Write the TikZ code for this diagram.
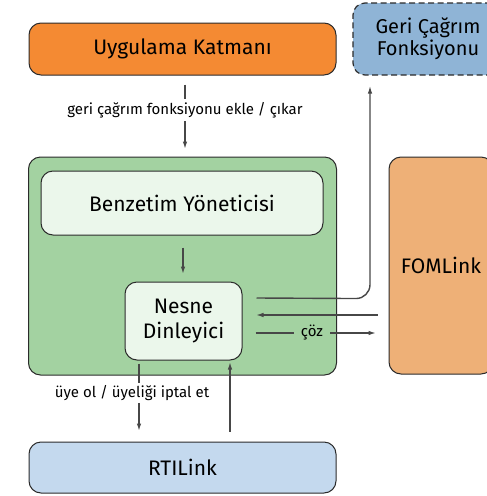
\documentclass[tikz,border=0pt]{standalone}
\usepackage{fontspec}
\setmainfont{Fira Sans}
\usetikzlibrary{arrows.meta,calc}

\definecolor{appfill}{HTML}{F48A33}
\definecolor{cbfill}{HTML}{8FB4D6}
\definecolor{simfill}{HTML}{A3D2A1}
\definecolor{innerfill}{HTML}{EBF7EB}
\definecolor{fomfill}{HTML}{EEB077}
\definecolor{rtifill}{HTML}{C4D9EE}
\definecolor{edge}{HTML}{2B2B2B}
\definecolor{wire}{HTML}{474747}

\tikzset{
  block/.style={draw=edge, line width=1pt, rounded corners=12pt,
    align=center, font=\fontsize{21}{24}\selectfont, inner sep=0pt},
  wirestyle/.style={draw=wire, line width=2pt},
  arr/.style={wirestyle, -{Latex[length=8pt,width=4.5pt]}},
  tag/.style={font=\fontsize{15}{17}\selectfont, inner sep=2pt, text=black}
}

\begin{document}
\begin{tikzpicture}[x=1pt, y=-1pt]
\useasboundingbox (0,0) rectangle (487,496);

% layers and components
\node[block, fill=appfill, minimum width=307pt, minimum height=52pt] (app) at (182.5,49) {Uygulama Katmanı};
\node[block, fill=cbfill, dash pattern=on 6pt off 3.5pt, line width=1.2pt, minimum width=150pt, minimum height=72pt] (cb) at (428,39) {};
\node[align=center, font=\fontsize{20}{22}\selectfont] (cbtext) at (428,39) {Geri Çağrım\\Fonksiyonu};
\node[block, fill=simfill, minimum width=308pt, minimum height=218pt] (sim) at (182.5,266) {};
\node[block, fill=innerfill, minimum width=282pt, minimum height=64pt] (mgr) at (182,203) {Benzetim Yöneticisi};
\node[block, fill=innerfill, minimum width=117pt, minimum height=78pt, font=\fontsize{21}{25}\selectfont] (lis) at (183.5,321) {Nesne\\Dinleyici};
\node[block, fill=fomfill, minimum width=104pt, minimum height=217pt] (fom) at (441,265.5) {FOMLink};
\node[block, fill=rtifill, minimum width=307pt, minimum height=51pt] (rti) at (182.5,467.5) {RTILink};

% application layer registers callbacks with the simulation
\node[tag] (addlbl) at (185,110) {geri çağrım fonksiyonu ekle / çıkar};
\draw[wirestyle] ($(app.south)+(2.5,9)$) -- ($(addlbl.north)+(0,-1)$);
\draw[arr] ($(addlbl.south)+(0,1)$) -- ($(sim.north)+(2.5,-7)$);

% manager feeds the listener
\draw[arr] ($(mgr.south)+(1,12)$) -- ($(lis.north)+(-0.5,-7)$);

% listener triggers the callback
\draw[wirestyle, -{Latex[length=8pt,width=4.5pt]}, line width=1.4pt, rounded corners=14pt]
  ($(lis.east)+(14,-23)$) -- ($(cb.south)+(-58,223)$) -- ($(cb.south)+(-58,10)$);

% FOMLink <-> listener
\draw[arr] ($(fom.west)+(-11,49.5)$) -- ($(lis.east)+(13,-6)$);
\node[tag, inner xsep=7pt] (solve) at (312,333) {çöz};
\draw[wirestyle] ($(lis.east)+(13,12)$) -- (solve.west);
\draw[arr] (solve.east) -- ($(fom.west)+(-12,67.5)$);

% listener <-> RTILink
\node[tag] (sublbl) at (132,393) {üye ol / üyeliği iptal et};
\draw[wirestyle] ($(lis.south)+(-44.5,3)$) -- ($(sublbl.north)+(7,0)$);
\draw[arr] ($(sublbl.south)+(7,0)$) -- ($(rti.north)+(-43.5,-10)$);
\draw[arr] ($(rti.north)+(47.5,-10)$) -- ($(lis.south)+(46.5,1)$);
\end{tikzpicture}
\end{document}
